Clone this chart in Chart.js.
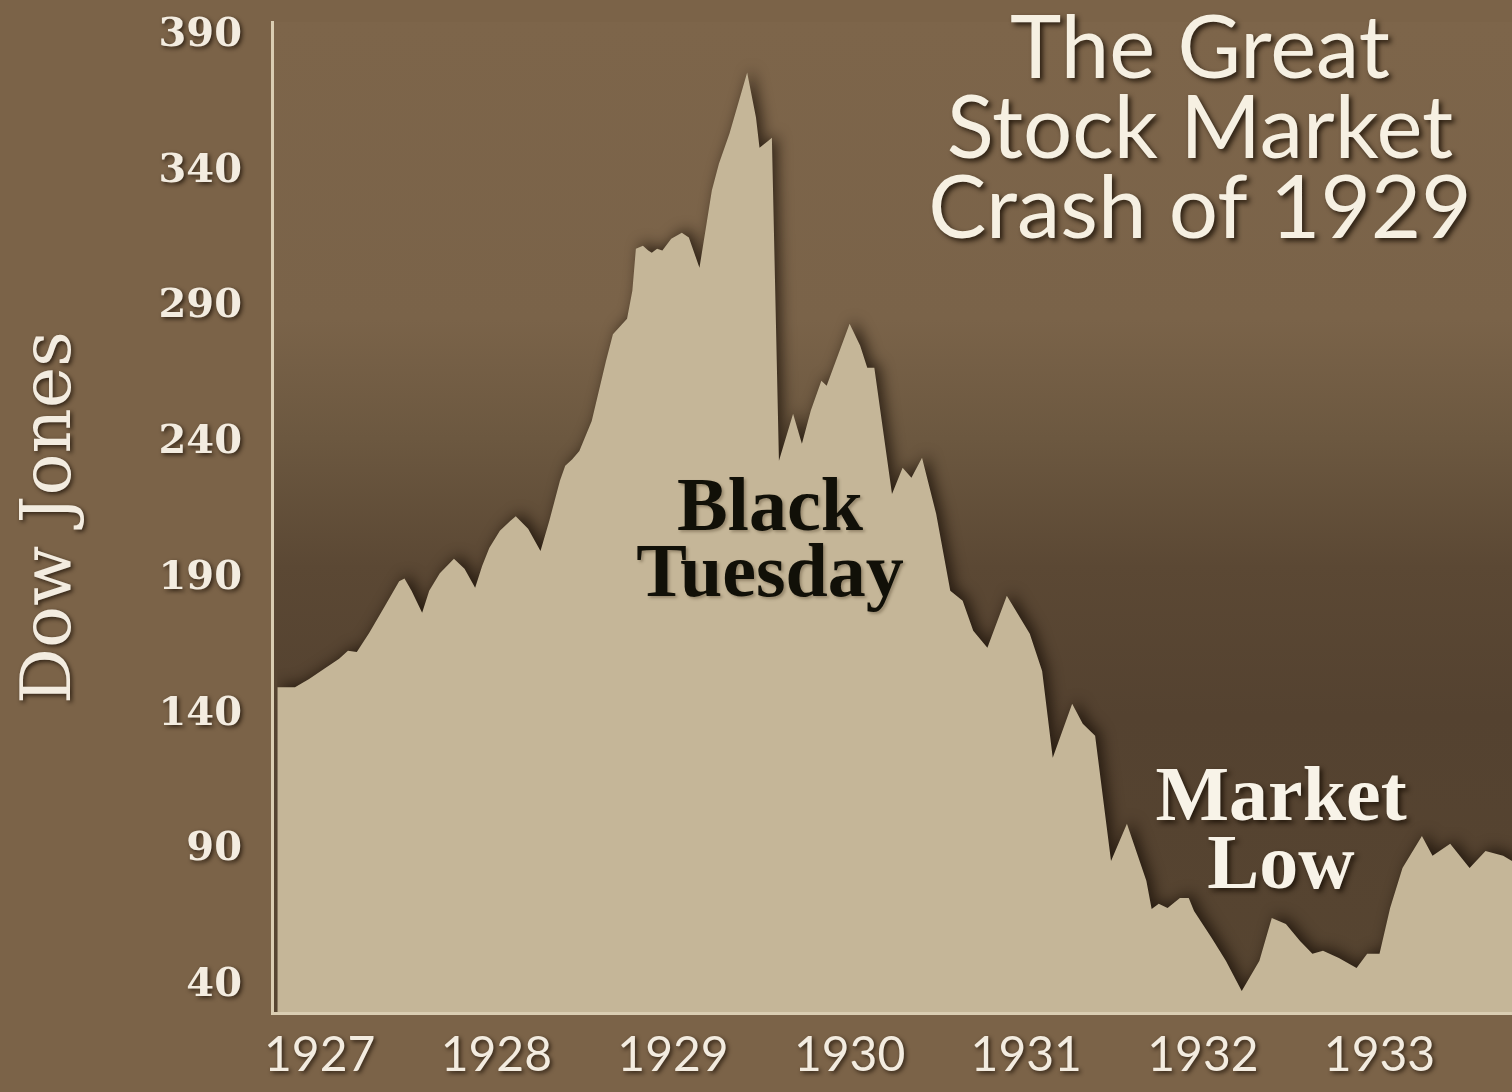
<!DOCTYPE html>
<html>
<head>
<meta charset="utf-8">
<script src="https://cdn.jsdelivr.net/npm/chart.js@4.4.1/dist/chart.umd.min.js"></script>
<style>
  html, body { margin: 0; padding: 0; background: #7b6348; overflow: hidden; }
  canvas { display: block; }
</style>
</head>
<body>
<canvas id="c" width="1512" height="1092"></canvas>
<script>
// ---- Data ----
const years = [
  1926.76, 1926.86, 1926.94, 1927.03, 1927.11, 1927.16, 1927.21, 1927.28, 1927.37, 1927.45,
  1927.48, 1927.52, 1927.58, 1927.62, 1927.68, 1927.76, 1927.82, 1927.88, 1927.92, 1927.96,
  1928.02, 1928.08, 1928.11, 1928.18, 1928.25, 1928.30, 1928.36, 1928.39, 1928.43, 1928.47,
  1928.54, 1928.62, 1928.66, 1928.74, 1928.77, 1928.79, 1928.83, 1928.86, 1928.88, 1928.91,
  1928.94, 1928.99, 1929.05, 1929.09, 1929.15, 1929.19, 1929.22, 1929.26, 1929.32, 1929.42,
  1929.47, 1929.49, 1929.54, 1929.56, 1929.60, 1929.68, 1929.73, 1929.78, 1929.84, 1929.87,
  1930.00, 1930.06, 1930.10, 1930.14, 1930.24, 1930.30, 1930.35, 1930.41, 1930.49, 1930.57,
  1930.64, 1930.70, 1930.78, 1930.89, 1931.02, 1931.09, 1931.15, 1931.26, 1931.32, 1931.39,
  1931.48, 1931.57, 1931.68, 1931.71, 1931.75, 1931.80, 1931.87, 1931.92, 1931.95, 1932.05,
  1932.13, 1932.22, 1932.32, 1932.39, 1932.47, 1932.55, 1932.62, 1932.68, 1932.77, 1932.87,
  1932.93, 1933.00, 1933.06, 1933.13, 1933.24, 1933.30, 1933.40, 1933.51, 1933.60, 1933.70,
  1933.75
];
const dow = [
  150, 150, 153, 157, 160.5, 163.4, 163, 170, 180, 189,
  190, 185.5, 177.4, 185.5, 192, 197.3, 193.6, 186.6, 194.7, 201.3,
  207.6, 211.3, 213, 208.4, 200.2, 211.3, 226, 231.6, 234, 237,
  248, 270, 280, 285.7, 296, 311.5, 312.6, 310.8, 310, 311.5,
  310.8, 315.2, 317.4, 315.6, 304.5, 320.7, 332.9, 342.8, 353.9, 376.4,
  359.8, 348.7, 351.3, 352.4, 233.4, 250.7, 239.7, 251.8, 262.9, 261,
  283.9, 275.8, 267.7, 267.7, 221.2, 230.8, 227.1, 234.5, 213.9, 185.5,
  181.8, 170.8, 164.5, 183.7, 169.7, 156, 124, 143.9, 136.5, 132.1,
  86, 99.7, 78.7, 68.3, 70.2, 68.7, 72.4, 72.4, 67.6, 57.6,
  49.2, 38.1, 49.2, 65, 62.8, 56.5, 51.8, 52.9, 50.3, 46.6,
  51.8, 51.8, 68.7, 83.4, 95.2, 87.9, 92.3, 83.4, 89.7, 87.9,
  86
];
const yearTicks = [1927, 1928, 1929, 1930, 1931, 1932, 1933];
const valueTicks = [40, 90, 140, 190, 240, 290, 340, 390];
const titleLines = ['The Great', 'Stock Market', 'Crash of 1929'];
const noteBlack = ['Black', 'Tuesday'];
const noteLow = ['Market', 'Low'];

// ---- Styling plugins ----
const decor = {
  id: 'decor',
  beforeDraw(chart) {
    const ctx = chart.ctx, a = chart.chartArea;
    ctx.save();
    ctx.fillStyle = '#7b6348';
    ctx.fillRect(0, 0, chart.width, chart.height);
    const g = ctx.createLinearGradient(0, a.top, 0, a.bottom);
    g.addColorStop(0, '#7d654a');
    g.addColorStop(0.3, '#7a6349');
    g.addColorStop(0.42, '#6c5840');
    g.addColorStop(0.55, '#5b4834');
    g.addColorStop(0.7, '#544230');
    g.addColorStop(1, '#574531');
    ctx.fillStyle = g;
    ctx.fillRect(a.left, a.top, a.right - a.left, a.bottom - a.top);
    ctx.restore();
    // shadow for axis text drawn by the scales
    ctx.shadowColor = 'rgba(25,15,5,0.75)';
    ctx.shadowBlur = 4;
    ctx.shadowOffsetX = 2;
    ctx.shadowOffsetY = 2;
  },
  beforeDatasetsDraw(chart) {
    const ctx = chart.ctx;
    ctx.shadowColor = 'rgba(20,12,4,0.7)';
    ctx.shadowBlur = 14;
    ctx.shadowOffsetX = 5;
    ctx.shadowOffsetY = -3;
  },
  afterDatasetsDraw(chart) {
    const ctx = chart.ctx;
    ctx.shadowColor = 'rgba(0,0,0,0)';
    ctx.shadowBlur = 0;
    ctx.shadowOffsetX = 0;
    ctx.shadowOffsetY = 0;
  },
  afterDraw(chart) {
    const ctx = chart.ctx;
    ctx.save();
    ctx.textAlign = 'center';
    ctx.textBaseline = 'alphabetic';
    // Title
    ctx.shadowColor = 'rgba(25,15,5,0.8)';
    ctx.shadowBlur = 5;
    ctx.shadowOffsetX = 3;
    ctx.shadowOffsetY = 3;
    ctx.fillStyle = '#f6f0e2';
    ctx.font = '87px Lato';
    const tb = [78, 158, 238];
    titleLines.forEach((t, i) => ctx.fillText(t, 1200, tb[i]));
    // Market Low
    ctx.font = 'bold 78px "Liberation Serif"';
    ctx.fillStyle = '#f8f3e8';
    ctx.fillText(noteLow[0], 1281, 820);
    ctx.fillText(noteLow[1], 1281, 888);
    // Black Tuesday
    ctx.shadowColor = 'rgba(60,45,25,0.35)';
    ctx.shadowBlur = 3;
    ctx.shadowOffsetX = 2;
    ctx.shadowOffsetY = 2;
    ctx.fillStyle = '#111008';
    ctx.font = 'bold 76px "Liberation Serif"';
    ctx.fillText(noteBlack[0], 770, 530);
    ctx.fillText(noteBlack[1], 770, 596);
    ctx.restore();
  }
};

const points = years.map((x, i) => ({ x: x, y: dow[i] }));

new Chart(document.getElementById('c'), {
  type: 'line',
  data: {
    datasets: [{
      label: 'Dow Jones',
      data: points,
      fill: 'start',
      backgroundColor: '#c5b698',
      borderWidth: 0,
      borderColor: 'rgba(0,0,0,0)',
      pointRadius: 0,
      tension: 0
    }]
  },
  options: {
    responsive: false,
    devicePixelRatio: 1,
    animation: false,
    layout: { padding: { top: 22, right: 0, left: 0, bottom: 0 } },
    plugins: { legend: { display: false }, tooltip: { enabled: false }, title: { display: false } },
    scales: {
      x: {
        type: 'linear',
        min: 1926.73,
        max: 1933.75,
        afterBuildTicks: s => { s.ticks = yearTicks.map(v => ({ value: v })); },
        afterFit: s => { s.height = 79; s.paddingLeft = 0; s.paddingRight = 0; },
        grid: { display: false, drawTicks: false },
        border: { display: true, color: '#dacdb2', width: 3, z: 1 },
        ticks: {
          color: '#f3ece0',
          font: { family: 'Lato', size: 48 },
          padding: 14,
          maxRotation: 0,
          autoSkip: false,
          callback: v => String(v)
        }
      },
      y: {
        type: 'linear',
        min: 30,
        max: 395,
        afterBuildTicks: s => { s.ticks = valueTicks.map(v => ({ value: v })); },
        afterFit: s => { s.width = 272; s.paddingTop = 0; s.paddingBottom = 0; },
        grid: { display: false, drawTicks: false },
        border: { display: true, color: '#dacdb2', width: 3, z: 1 },
        title: {
          display: true,
          text: 'Dow Jones',
          color: '#f3ece0',
          font: { family: 'DejaVu Serif', size: 70 },
          padding: { top: 10, bottom: 0 }
        },
        ticks: {
          color: '#f3ece0',
          font: { family: 'DejaVu Serif', size: 40, weight: 'bold' },
          padding: 30,
          autoSkip: false,
          callback: v => String(v)
        }
      }
    }
  },
  plugins: [decor]
});
</script>
</body>
</html>
